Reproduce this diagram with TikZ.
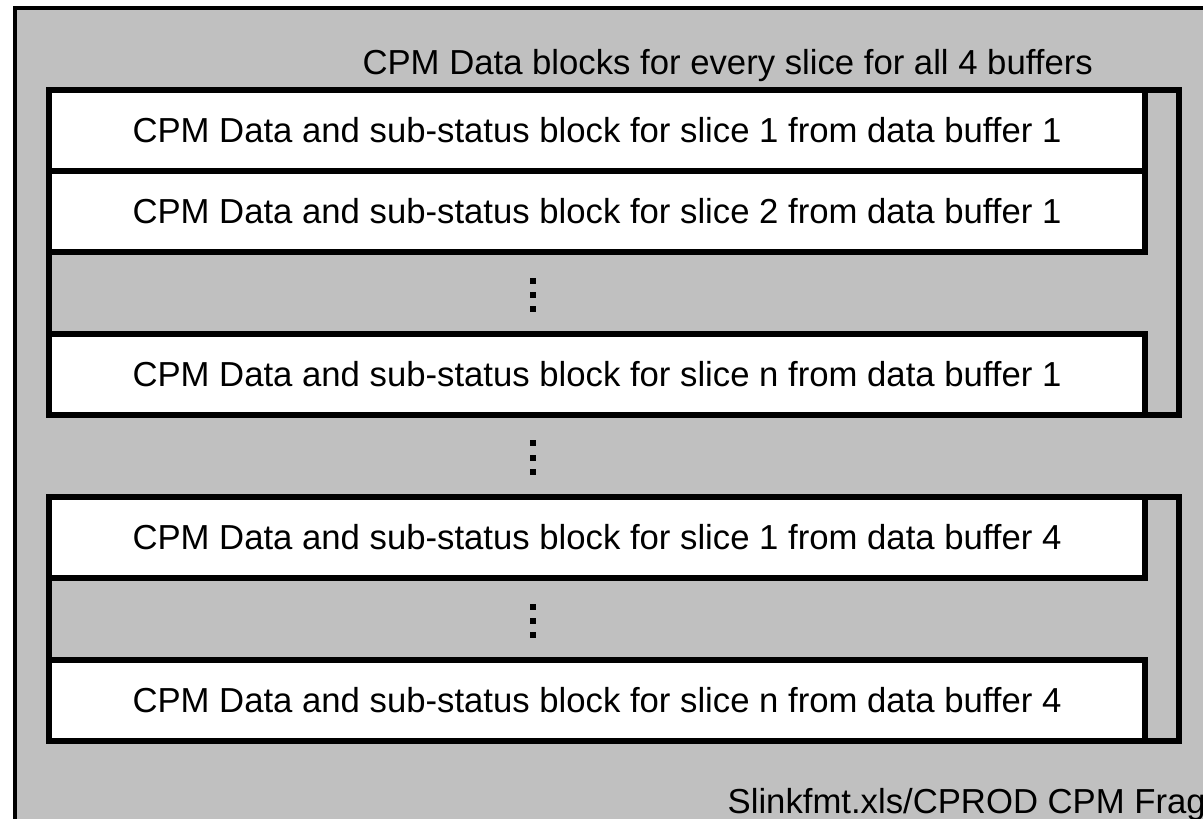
\documentclass[tikz,border=0pt]{standalone}
\usepackage{fontspec}
\setmainfont{Liberation Sans}
\definecolor{panelgray}{HTML}{C0C0C0}
\begin{document}
\begin{tikzpicture}[x=1pt,y=-1pt,
  txt/.style={font=\fontsize{34.7}{40}\selectfont, inner sep=0pt},
  databox/.style={txt, draw=black, fill=white, line width=6pt,
    minimum width=1096pt, minimum height=81pt},
  groupframe/.style={draw=black, fill=panelgray, line width=6pt},
  vdot/.style={fill=black}
]
% page area
\useasboundingbox (0,0) rectangle (1203,819);
\clip (0,0) rectangle (1203,819);
\fill[white] (0,0) rectangle (1203,819);

% outer panel (continues past the right and bottom edges)
\draw[line width=4pt, fill=panelgray] (15,8) rectangle (1260,880);

% title of the block list
\node[txt, anchor=base east] (title) at (1093,74)
  {CPM Data blocks for every slice for all 4 buffers};

% group frames, one per data buffer
\draw[groupframe] (49,90) rectangle (1179,415);
\draw[groupframe] (49,497) rectangle (1179,740.5);

% data blocks
\node[databox] (b1) at (597,130.5) {CPM Data and sub-status block for slice 1 from data buffer 1};
\node[databox] (b2) at (597,211.5) {CPM Data and sub-status block for slice 2 from data buffer 1};
\node[databox] (b3) at (597,374.5) {CPM Data and sub-status block for slice n from data buffer 1};
\node[databox] (b4) at (597,537.5) {CPM Data and sub-status block for slice 1 from data buffer 4};
\node[databox] (b5) at (597,700)   {CPM Data and sub-status block for slice n from data buffer 4};

% vertical ellipses between blocks
\foreach \y in {281,295,309, 443.3,457.7,472, 606.7,620.7,635}
  \fill[vdot] (530.3,\y-3) rectangle (536.3,\y+3);

% file reference in the lower right corner
\node[txt, anchor=base east] (src) at (1206,813) {Slinkfmt.xls/CPROD CPM Frag};
\end{tikzpicture}
\end{document}
